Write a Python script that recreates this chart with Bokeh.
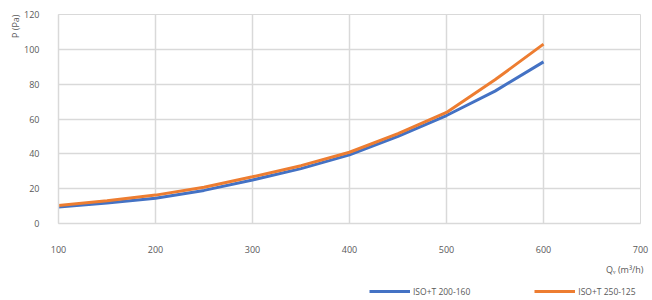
from bokeh.plotting import figure
from bokeh.layouts import column
from bokeh.models import Range1d, Legend, LegendItem, Title, FixedTicker
from bokeh.embed import file_html
from bokeh.resources import INLINE

flow = [100, 150, 200, 250, 300, 350, 400, 450, 500, 550, 600]
iso_200_160 = [9.4, 11.8, 14.5, 19.0, 25.0, 31.5, 39.4, 50.0, 62.0, 76.0, 92.8]
iso_250_125 = [10.3, 13.1, 16.3, 20.8, 26.8, 33.2, 40.9, 51.6, 63.8, 82.5, 103.0]
x_ticks = [100, 200, 300, 400, 500, 600, 700]
y_ticks = [0, 20, 40, 60, 80, 100, 120]
series_names = ["ISO+T 200-160", "ISO+T 250-125"]
colors = ["#4472C4", "#ED7D31"]

FONT = "Open Sans"
GRID = "#d9d9d9"
TXT = "#595959"

p = figure(width=650, height=282, output_backend="svg", toolbar_location=None,
           x_range=Range1d(100, 700), y_range=Range1d(0, 120),
           min_border_left=58, min_border_right=10, min_border_top=14, min_border_bottom=59)

p.outline_line_color = GRID
p.background_fill_color = "white"
p.border_fill_color = "white"

for ax in (p.xaxis[0], p.yaxis[0]):
    ax.axis_line_color = GRID
    ax.axis_line_width = 1.5
    ax.major_tick_line_color = None
    ax.minor_tick_line_color = None
    ax.major_label_text_font = FONT
    ax.major_label_text_font_size = "9px"
    ax.major_label_text_color = TXT

p.xaxis[0].ticker = FixedTicker(ticks=x_ticks)
p.yaxis[0].ticker = FixedTicker(ticks=y_ticks)
p.xaxis[0].major_label_standoff = 16
p.yaxis[0].major_label_standoff = 13

p.xgrid.ticker = FixedTicker(ticks=x_ticks)
p.ygrid.ticker = FixedTicker(ticks=y_ticks)
p.xgrid.grid_line_color = GRID
p.ygrid.grid_line_color = GRID
p.xgrid.grid_line_width = 1.5
p.ygrid.grid_line_width = 1.5

p.line(flow, iso_200_160, line_color=colors[0], line_width=3)
p.line(flow, iso_250_125, line_color=colors[1], line_width=3)

ylab = Title(text="P (Pa)", align="right", text_font=FONT, text_font_size="9px",
             text_color=TXT, text_font_style="normal", standoff=0)
p.add_layout(ylab, "left")

xlab = Title(text="Qᵥ (m³/h)", align="right", text_font=FONT, text_font_size="9px",
             text_color=TXT, text_font_style="normal", offset=-3)
p.add_layout(xlab, "below")

# legend strip underneath the chart
lg = figure(width=650, height=18, output_backend="svg", toolbar_location=None,
            x_range=Range1d(100, 700), y_range=Range1d(1000, 1001),
            x_axis_location=None, y_axis_location=None,
            min_border_left=0, min_border_right=0, min_border_top=0, min_border_bottom=0)
lg.outline_line_color = None
lg.grid.visible = False
l1 = lg.line(flow, iso_200_160, line_color=colors[0], line_width=3)
l2 = lg.line(flow, iso_250_125, line_color=colors[1], line_width=3)
legend = Legend(items=[LegendItem(label=series_names[0], renderers=[l1]),
                       LegendItem(label=series_names[1], renderers=[l2])],
                location=(311, 2), orientation="horizontal",
                padding=0, margin=0, spacing=64, glyph_width=41, glyph_height=14,
                label_standoff=3, label_height=14, label_text_font=FONT,
                label_text_font_size="8.5px",
                label_text_color=TXT, border_line_color=None, background_fill_alpha=0)
lg.add_layout(legend, "center")

layout = column(p, lg, spacing=0)
open("out.html", "w").write(file_html(layout, INLINE))
